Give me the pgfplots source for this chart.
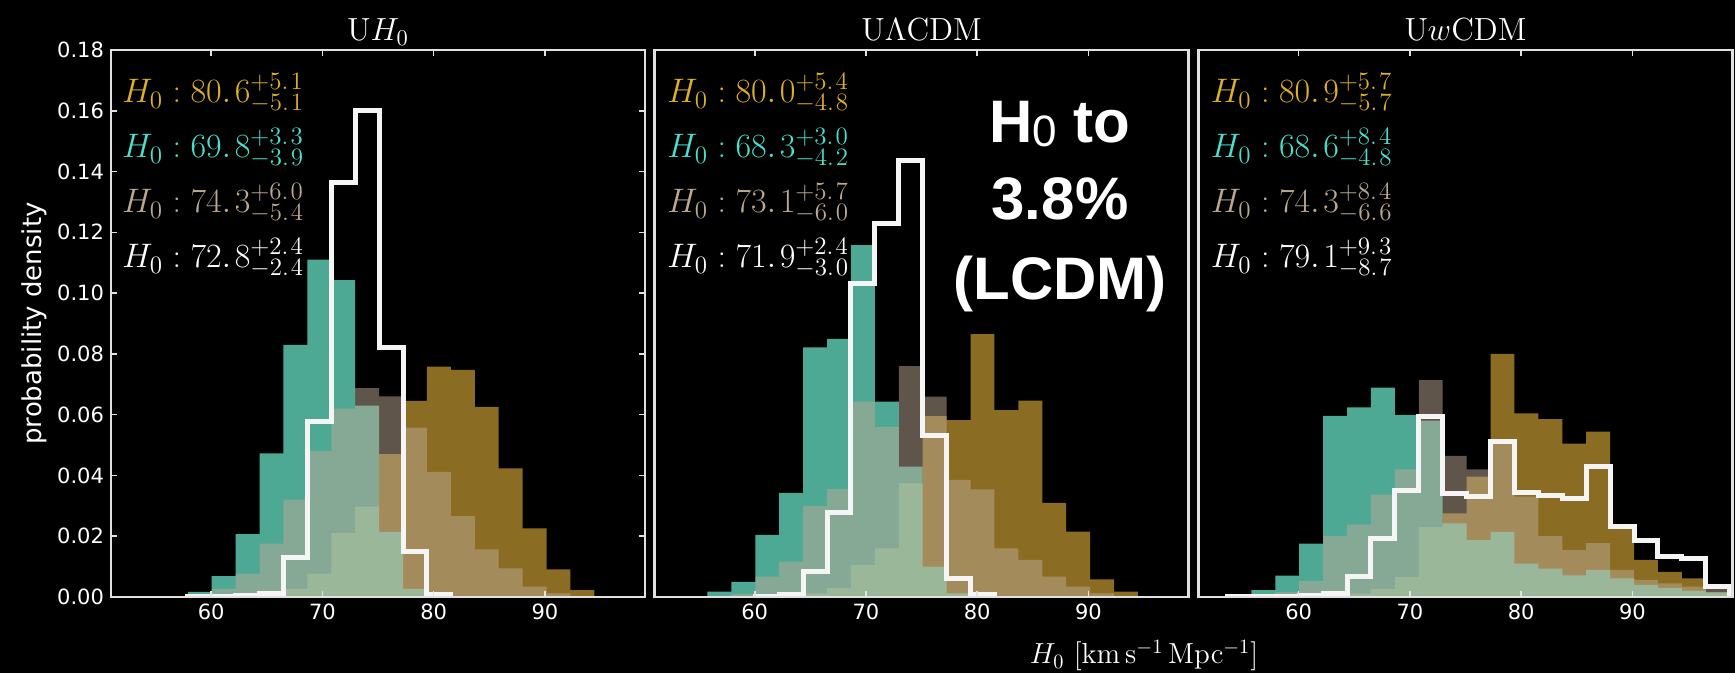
\RequirePackage{fix-cm}
\documentclass[border=0pt]{standalone}
\usepackage[no-math]{fontspec}
\usepackage{pgfplots}
\pgfplotsset{compat=1.18}
\newfontfamily\dejavu{DejaVu Sans}
\newfontfamily\arial{Liberation Sans}
\DeclareMathSizes{17}{17}{12.5}{9}
\definecolor{tealc}{RGB}{111,240,211}
\definecolor{goldc}{RGB}{219,169,55}
\definecolor{tanc}{RGB}{190,170,150}
\definecolor{goldtext}{RGB}{222,176,40}
\definecolor{tealtext}{RGB}{72,224,204}
\definecolor{tantext}{RGB}{188,168,145}
\definecolor{framec}{RGB}{225,225,225}
\pgfplotsset{
  panel/.style={
    scale only axis, width=267pt, height=273.5pt, anchor=south west,
    xmin=51, xmax=99, ymin=0, ymax=0.18,
    axis on top, clip mode=individual,
    axis line style={draw=framec, line width=1.2pt},
    xtick={60,70,80,90},
    major tick style={draw=framec, line width=0.8pt},
    major tick length=3pt, tick align=inside,
    xtick pos=both, xticklabel pos=lower,
    ticklabel style={font=\dejavu\fontsize{10.5}{12}\selectfont, text=white},
    /pgf/number format/assume math mode=true,
    scaled y ticks=false,
  },
  goldh/.style={const plot, draw=none, fill=goldc, fill opacity=0.64},
  tealh/.style={const plot, draw=none, fill=tealc, fill opacity=0.7},
  tanhist/.style={const plot, draw=none, fill=tanc, fill opacity=0.5},
  whiteh/.style={const plot, draw=white!96!black, line width=2.5pt, line join=miter, fill=none},
}
\newcommand{\annot}{\fontsize{17}{20}\selectfont}
\newcommand{\hv}[4]{$H_0\;{:}\;#1.\mkern2mu#2^{+#3}_{-#4}$}
\newcommand{\sd}[2]{#1.\mkern1.5mu#2}
\begin{document}
\begin{tikzpicture}[x=1pt,y=1pt]
\useasboundingbox (0,0) rectangle (867.5,336.5);
\fill[black] (0,0) rectangle (867.5,336.5);
% ---------------- Panel 1
\begin{axis}[panel, at={(55.5pt,38pt)},
  ytick={0,0.02,0.04,0.06,0.08,0.10,0.12,0.14,0.16,0.18},
  ytick pos=both, yticklabel pos=left,
  yticklabel style={/pgf/number format/.cd, fixed, fixed zerofill, precision=2}]
\addplot[goldh] table {
64.35 0.0005
66.5 0.0027
68.65 0.0077
70.8 0.021
72.95 0.0297
75.1 0.047
77.25 0.0645
79.4 0.0758
81.55 0.0747
83.7 0.0626
85.85 0.0423
88.0 0.0226
90.15 0.0091
92.3 0.0023
94.45 0.0023
} \closedcycle;
\addplot[tealh] table {
57.9 0.0017
60.05 0.0069
62.2 0.0207
64.35 0.0473
66.5 0.083
68.65 0.111
70.8 0.1043
72.95 0.063
75.1 0.0214
77.25 0.0027
79.4 0.0027
} \closedcycle;
\addplot[tanhist] table {
57.9 0.0008
60.05 0.0027
62.2 0.0077
64.35 0.0176
66.5 0.032
68.65 0.048
70.8 0.062
72.95 0.0687
75.1 0.066
77.25 0.0557
79.4 0.0412
81.55 0.0266
83.7 0.0157
85.85 0.0094
88.0 0.0034
90.15 0.0012
92.3 0.0012
} \closedcycle;
\addplot[whiteh] table {
57.9 0
57.9 0.0002
60.05 0.0003
62.2 0.0005
64.35 0.0012
66.5 0.0129
68.65 0.0577
70.8 0.1363
72.95 0.160
75.1 0.0821
77.25 0.0149
79.4 0.0007
81.55 0
};
\end{axis}
% ---------------- Panel 2
\begin{axis}[panel, at={(327.3pt,38pt)}, ytick=\empty]
\addplot[goldh] table {
64.35 0.0012
66.5 0.0029
68.65 0.0105
70.8 0.016
72.95 0.0374
75.1 0.0595
77.25 0.0582
79.4 0.0865
81.55 0.0615
83.7 0.0646
85.85 0.031
88.0 0.0215
90.15 0.0058
92.3 0.0018
94.45 0.0018
} \closedcycle;
\addplot[tealh] table {
55.75 0.0018
57.9 0.005
60.05 0.0204
62.2 0.0343
64.35 0.0821
66.5 0.0849
68.65 0.1158
70.8 0.0643
72.95 0.0429
75.1 0.010
77.25 0.0012
79.4 0.0012
} \closedcycle;
\addplot[tanhist] table {
57.9 0.001
60.05 0.0067
62.2 0.0116
64.35 0.030
66.5 0.0355
68.65 0.0643
70.8 0.056
72.95 0.076
75.1 0.0659
77.25 0.0385
79.4 0.0354
81.55 0.016
83.7 0.0122
85.85 0.0067
88.0 0.0034
90.15 0.0012
92.3 0.0012
} \closedcycle;
\addplot[whiteh] table {
60.05 0
60.05 0.0003
62.2 0.0007
64.35 0.0083
66.5 0.0277
68.65 0.103
70.8 0.1229
72.95 0.1437
75.1 0.0533
77.25 0.0061
79.4 0.0007
81.55 0
};
\end{axis}
% ---------------- Panel 3
\begin{axis}[panel, at={(599.25pt,38pt)}, ytick=\empty]
\addplot[goldh] table {
62.2 0.0005
64.35 0.0011
66.5 0.0027
68.65 0.0066
70.8 0.023
72.95 0.0275
75.1 0.0396
77.25 0.080
79.4 0.0604
81.55 0.0585
83.7 0.0505
85.85 0.0544
88.0 0.0226
90.15 0.0122
92.3 0.0083
94.45 0.0061
96.6 0.0015
98.75 0.0015
} \closedcycle;
\addplot[tealh] table {
53.6 0.0005
55.75 0.0023
57.9 0.007
60.05 0.0176
62.2 0.0596
64.35 0.0624
66.5 0.0689
68.65 0.0599
70.8 0.058
72.95 0.0242
75.1 0.0187
77.25 0.0214
79.4 0.011
81.55 0.0093
83.7 0.0071
85.85 0.0089
88.0 0.0061
90.15 0.004
92.3 0.003
94.45 0.002
96.6 0.0015
98.75 0.0015
} \closedcycle;
\addplot[tanhist] table {
57.9 0.0016
60.05 0.0053
62.2 0.020
64.35 0.0238
66.5 0.0337
68.65 0.042
70.8 0.0714
72.95 0.0464
75.1 0.042
77.25 0.051
79.4 0.033
81.55 0.020
83.7 0.0154
85.85 0.0177
88.0 0.0089
90.15 0.0056
92.3 0.0045
94.45 0.0034
96.6 0.0028
98.75 0.0028
} \closedcycle;
\addplot[whiteh] table {
53.6 0
53.6 0.0003
55.75 0.0003
57.9 0.0003
60.05 0.0005
62.2 0.0011
64.35 0.0066
66.5 0.0192
68.65 0.0352
70.8 0.0593
72.95 0.0341
75.1 0.033
77.25 0.0513
79.4 0.0344
81.55 0.0335
83.7 0.0324
85.85 0.0429
88.0 0.0231
90.15 0.0187
92.3 0.0133
94.45 0.0127
96.6 0.0034
98.75 0
};
\end{axis}
% ---------------- Texts
\node[rotate=90, text=white, font=\dejavu\fontsize{13}{15}\selectfont] at (17.25,174.75) {probability density};
\node[anchor=base, inner sep=0pt, text=white, font=\fontsize{16}{19}\selectfont] at (189,316) {$\mathrm{U}H_0$};
\node[anchor=base, inner sep=0pt, text=white, font=\fontsize{16}{19}\selectfont] at (460.8,316) {$\mathrm{U\Lambda CDM}$};
\node[anchor=base, inner sep=0pt, text=white, font=\fontsize{16}{19}\selectfont] at (732.75,316) {$\mathrm{U}w\mathrm{CDM}$};
\node[anchor=base, inner sep=0pt, text=white, font=\fontsize{14.5}{17}\selectfont] at (572,4.5) {$H_0\ [\mathrm{km\,s^{-1}\,Mpc^{-1}}]$};
% annotations panel 1
\node[anchor=base west, inner sep=0pt, text=goldtext, font=\annot] at (61,285) {\hv{80}{6}{\sd51}{\sd51}};
\node[anchor=base west, inner sep=0pt, text=tealtext, font=\annot] at (61,257.5) {\hv{69}{8}{\sd33}{\sd39}};
\node[anchor=base west, inner sep=0pt, text=tantext, font=\annot] at (61,230) {\hv{74}{3}{\sd60}{\sd54}};
\node[anchor=base west, inner sep=0pt, text=white, font=\annot] at (61,202.5) {\hv{72}{8}{\sd24}{\sd24}};
% annotations panel 2
\node[anchor=base west, inner sep=0pt, text=goldtext, font=\annot] at (333.5,285) {\hv{80}{0}{\sd54}{\sd48}};
\node[anchor=base west, inner sep=0pt, text=tealtext, font=\annot] at (333.5,257.5) {\hv{68}{3}{\sd30}{\sd42}};
\node[anchor=base west, inner sep=0pt, text=tantext, font=\annot] at (333.5,230) {\hv{73}{1}{\sd57}{\sd60}};
\node[anchor=base west, inner sep=0pt, text=white, font=\annot] at (333.5,202.5) {\hv{71}{9}{\sd24}{\sd30}};
% annotations panel 3
\node[anchor=base west, inner sep=0pt, text=goldtext, font=\annot] at (605.25,285) {\hv{80}{9}{\sd57}{\sd57}};
\node[anchor=base west, inner sep=0pt, text=tealtext, font=\annot] at (605.25,257.5) {\hv{68}{6}{\sd84}{\sd48}};
\node[anchor=base west, inner sep=0pt, text=tantext, font=\annot] at (605.25,230) {\hv{74}{3}{\sd84}{\sd66}};
\node[anchor=base west, inner sep=0pt, text=white, font=\annot] at (605.25,202.5) {\hv{79}{1}{\sd93}{\sd87}};
% big text
\node[anchor=base, inner sep=0pt, text=white, font=\arial\bfseries\fontsize{30}{36}\selectfont] at (530,265) {H\raisebox{-1.7pt}{\mdseries\fontsize{22}{22}\selectfont 0} to};
\node[anchor=base, inner sep=0pt, text=white, font=\arial\bfseries\fontsize{30}{36}\selectfont] at (530,226.5) {3.8\%};
\node[anchor=base, inner sep=0pt, text=white, font=\arial\bfseries\fontsize{30}{36}\selectfont] at (530,186.5) {(LCDM)};
\end{tikzpicture}
\end{document}
